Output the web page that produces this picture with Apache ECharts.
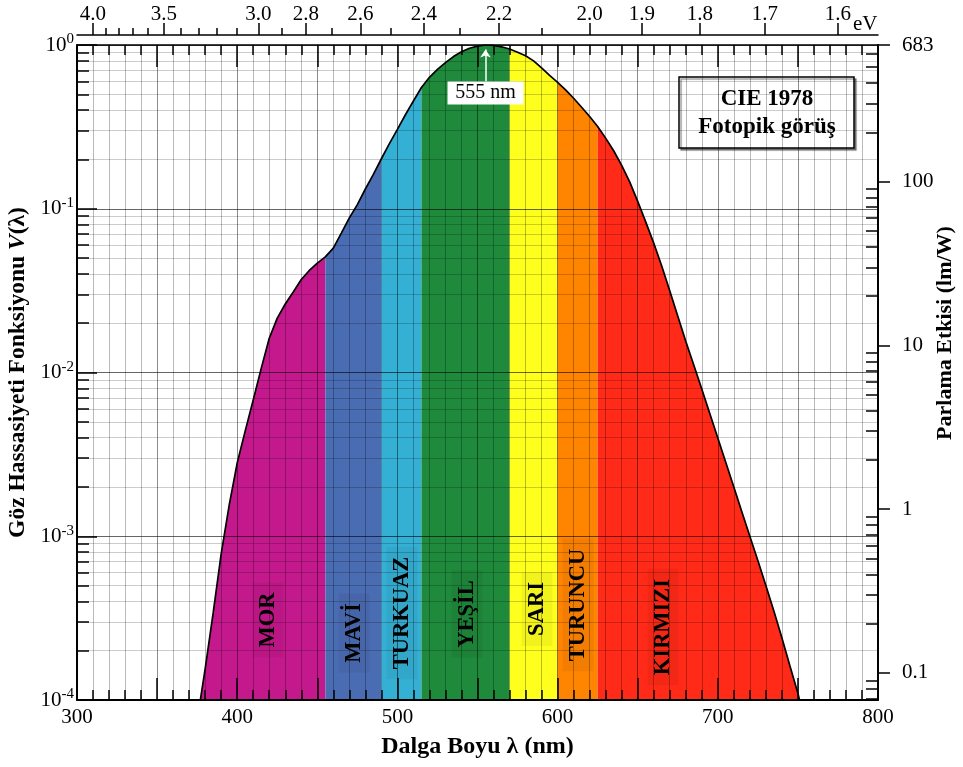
<!DOCTYPE html>
<html>
<head>
<meta charset="utf-8">
<script src="https://cdn.jsdelivr.net/npm/echarts@6/dist/echarts.min.js"></script>
<style>
  html, body { margin: 0; padding: 0; background: #fff; }
  #chart { width: 963px; height: 767px; }
</style>
</head>
<body>
<div id="chart"></div>
<script>
// CIE 1978 photopic luminosity function V(λ), wavelength in nm
const wavelengths = [377, 380, 385, 390, 395, 400, 405, 410, 415, 420, 425, 430, 435, 440, 445, 450,
  455, 460, 465, 470, 475, 480, 485, 490, 495, 500, 505, 510, 515, 520, 525, 530, 535, 540, 545,
  550, 555, 560, 565, 570, 575, 580, 585, 590, 595, 600, 605, 610, 615, 620, 625, 630, 635, 640,
  645, 650, 655, 660, 665, 670, 675, 680, 685, 690, 695, 700, 705, 710, 715, 720, 725, 730, 735,
  740, 745, 750, 751];
const vLambda = [1.0e-4, 1.55e-4, 3.4e-4, 7.8e-4, 1.55e-3, 2.8e-3, 4.4e-3, 6.8e-3, 0.0106, 0.0162,
  0.0215, 0.0262, 0.0310, 0.0370, 0.0420, 0.0465, 0.0508, 0.0575, 0.0710, 0.0880, 0.1060, 0.1320,
  0.1620, 0.2020, 0.2500, 0.3050, 0.3750, 0.4550, 0.5500, 0.6350, 0.7100, 0.7800, 0.8500, 0.9100,
  0.9550, 0.9850, 1.0000, 0.9950, 0.9750, 0.9450, 0.9040, 0.8590, 0.8000, 0.7240, 0.6520, 0.5920,
  0.5320, 0.4730, 0.4170, 0.3660, 0.3180, 0.2700, 0.2260, 0.1840, 0.1460, 0.1110, 0.0832, 0.0617,
  0.0447, 0.0316, 0.0221, 0.0155, 0.0111, 0.00794, 0.00562, 0.00398, 0.00282, 0.00200, 0.00141,
  0.00100, 0.00071, 0.00050, 0.00035, 0.00024, 0.000162, 0.000110, 0.000100];

// Colour bands of the visible spectrum
const bandNames = ['MOR', 'MAVİ', 'TURKUAZ', 'YEŞİL', 'SARI', 'TURUNCU', 'KIRMIZI'];
const bandEdges = [377, 455, 490, 515, 570, 600, 625, 751];
const bandColors = ['#c4198c', '#4a6cb3', '#35b0d5', '#1f8a3c', '#ffff1e', '#ff8400', '#ff2a17'];

// Peak of the curve
const peakLabel = '555 nm';
const peakWavelength = 555;

// Axis tick values
const decadeTicks = [1e-4, 1e-3, 1e-2, 1e-1, 1];
const efficacyLabels = [0.1, 1, 10, 100, 683];
const evMajor = [4.0, 3.5, 3.0, 2.8, 2.6, 2.4, 2.2, 2.0, 1.9, 1.8, 1.7, 1.6];
const evMinor = [4.0, 3.9, 3.8, 3.7, 3.6, 3.5, 3.4, 3.3, 3.2, 3.1, 3.0, 2.9, 2.8, 2.7, 2.6, 2.5,
  2.4, 2.3, 2.2, 2.1, 2.0, 1.9, 1.8, 1.7, 1.6];
const HC = 1239.84; // eV·nm
const K_M = 683;    // lm/W

const FONT = '"Liberation Serif", "Times New Roman", serif';

const toNm = ev => HC / ev;
const minorLog = (lo, hi) => {
  const out = [];
  for (let d = lo; d < hi; d++) {
    for (let k = 2; k <= 9; k++) out.push(k * Math.pow(10, d));
  }
  return out;
};
const vMinor = minorLog(-4, 0);
const effMinor = minorLog(-2, 3).filter(v => v > K_M * 1e-4 && v < K_M);

const curve = wavelengths.map((w, i) => [w, vLambda[i]]);

const bandSeries = bandNames.map((name, i) => ({
  type: 'line',
  name,
  data: curve.filter(p => p[0] >= bandEdges[i] && p[0] <= bandEdges[i + 1]),
  symbol: 'none',
  lineStyle: { width: 0 },
  areaStyle: { color: bandColors[i], opacity: 1, origin: 'start' },
  z: 2,
  silent: true
}));

const outline = {
  type: 'line',
  name: 'V(λ)',
  data: curve,
  symbol: 'none',
  lineStyle: { color: '#000', width: 1.7 },
  z: 5,
  silent: true,
  markLine: {
    silent: true,
    symbol: ['none', 'arrow'],
    symbolSize: 8,
    label: { show: false },
    lineStyle: { color: '#fff', width: 1.5, type: 'solid' },
    data: [[{ coord: [peakWavelength, 0.6] }, { coord: [peakWavelength, 0.94] }]]
  },
  markPoint: {
    silent: true,
    symbol: 'rect',
    symbolSize: [76, 23],
    itemStyle: { color: '#fff' },
    label: {
      show: true, position: 'inside', formatter: peakLabel,
      fontFamily: FONT, fontSize: 20, color: '#000'
    },
    data: [{ coord: [peakWavelength, 0.51] }]
  }
};

const tickLine = { color: '#000', width: 1.5 };
const labelText = { fontFamily: FONT, fontSize: 21, color: '#000' };

const option = {
  animation: false,
  backgroundColor: '#fff',
  grid: { left: 77, right: 85, top: 45, bottom: 67, outerBoundsMode: 'none' },
  xAxis: [
    {
      type: 'value', position: 'bottom', min: 300, max: 800, interval: 50, z: 3,
      name: 'Dalga Boyu λ (nm)', nameLocation: 'middle', nameGap: 35,
      nameTextStyle: { fontFamily: FONT, fontSize: 24, fontWeight: 'bold', color: '#000' },
      axisLine: { show: true, onZero: false, lineStyle: { color: '#000', width: 2 } },
      axisTick: { show: true, inside: true, length: 22, lineStyle: tickLine },
      minorTick: { show: true, splitNumber: 5, length: 10, lineStyle: tickLine },
      axisLabel: Object.assign({ margin: 7, formatter: v => (v % 100 === 0 ? String(v) : '') }, labelText),
      splitLine: { show: true, lineStyle: { color: 'rgba(0,0,0,0.45)', width: 1 } },
      minorSplitLine: { show: true, lineStyle: { color: 'rgba(0,0,0,0.27)', width: 1 } }
    },
    {
      type: 'value', position: 'top', offset: 10, min: 300, max: 800, z: 3,
      axisLine: { show: true, onZero: false, lineStyle: { color: '#000', width: 1.5 } },
      axisTick: { show: true, inside: false, length: 12, customValues: evMajor.map(toNm), lineStyle: tickLine },
      axisLabel: Object.assign({
        margin: 10, customValues: evMajor.map(toNm),
        formatter: v => (HC / v).toFixed(1)
      }, labelText),
      splitLine: { show: false }
    },
    {
      type: 'value', position: 'top', offset: 10, min: 300, max: 800, z: 3,
      axisLine: { show: false },
      axisTick: { show: true, inside: false, length: 7, customValues: evMinor.map(toNm), lineStyle: tickLine },
      axisLabel: { show: false },
      splitLine: { show: false }
    },
    {
      type: 'value', position: 'top', offset: 0, min: 300, max: 800, interval: 50, z: 3,
      axisLine: { show: true, onZero: false, lineStyle: { color: '#000', width: 1.5 } },
      axisTick: { show: true, inside: true, length: 22, lineStyle: tickLine },
      minorTick: { show: true, splitNumber: 5, length: 10, lineStyle: tickLine },
      axisLabel: { show: false },
      splitLine: { show: false }
    }
  ],
  yAxis: [
    {
      type: 'log', logBase: 10, min: 1e-4, max: 1, position: 'left', z: 3,
      name: '{b|Göz Hassasiyeti Fonksiyonu }{i|V}{b|(λ)}',
      nameLocation: 'middle', nameGap: 45,
      nameTextStyle: {
        rich: {
          b: { fontFamily: FONT, fontSize: 23.5, fontWeight: 'bold', color: '#000' },
          i: { fontFamily: FONT, fontSize: 23.5, fontWeight: 'bold', fontStyle: 'italic', color: '#000' }
        }
      },
      axisLine: { show: true, onZero: false, lineStyle: { color: '#000', width: 2 } },
      axisTick: { show: true, inside: true, length: 20, customValues: decadeTicks, lineStyle: tickLine },
      axisLabel: {
        margin: 3,
        customValues: decadeTicks,
        formatter: v => '{n|10}{s|' + Math.round(Math.log10(v)) + '}',
        rich: {
          n: { fontFamily: FONT, fontSize: 21, color: '#000', lineHeight: 26 },
          s: { fontFamily: FONT, fontSize: 15, color: '#000', verticalAlign: 'top', lineHeight: 15, padding: [0, 0, 12, 0] }
        }
      },
      splitLine: { show: true, lineStyle: { color: 'rgba(0,0,0,0.6)', width: 1 } }
    },
    {
      type: 'log', logBase: 10, min: K_M * 1e-4, max: K_M, position: 'right', z: 3,
      axisLine: { show: true, onZero: false, lineStyle: { color: '#000', width: 2 } },
      axisTick: { show: true, inside: false, length: 12, customValues: efficacyLabels, lineStyle: tickLine },
      axisLabel: Object.assign({
        margin: 24, customValues: efficacyLabels,
        formatter: v => (v > 600 ? '683' : v < 0.5 ? '0.1' : String(Math.round(v)))
      }, labelText),
      splitLine: { show: false }
    },
    {
      type: 'log', logBase: 10, min: K_M * 1e-4, max: K_M, position: 'right', z: 3,
      axisLine: { show: false },
      axisTick: { show: true, inside: true, length: 12, customValues: effMinor, lineStyle: tickLine },
      axisLabel: { show: false },
      splitLine: { show: false }
    },
    {
      type: 'log', logBase: 10, min: 1e-4, max: 1, position: 'left', z: 3,
      axisLine: { show: false },
      axisTick: { show: true, inside: true, length: 12, customValues: vMinor, lineStyle: tickLine },
      axisLabel: { show: false },
      splitLine: { show: true, lineStyle: { color: 'rgba(0,0,0,0.2)', width: 1 } }
    }
  ],
  series: bandSeries.concat([outline]),
  graphic: [
    // eV unit on the photon-energy axis
    {
      type: 'text', x: 853, y: 24, z: 10, silent: true,
      style: { text: 'eV', fontFamily: FONT, fontSize: 21, fill: '#000', align: 'left', verticalAlign: 'middle', textAlign: 'left', textVerticalAlign: 'middle' }
    },
    // right-hand axis title
    {
      type: 'text', x: 945, y: 333, rotation: Math.PI / 2, z: 10, silent: true,
      style: { text: 'Parlama Etkisi (lm/W)', fontFamily: FONT, fontSize: 22, fontWeight: 'bold', fill: '#000', align: 'center', verticalAlign: 'middle', textAlign: 'center', textVerticalAlign: 'middle' }
    },
    // title box
    {
      type: 'group', z: 10, silent: true,
      children: [
        {
          type: 'rect', shape: { x: 679, y: 77, width: 175, height: 71 },
          style: { fill: '#fff', stroke: '#000', lineWidth: 1.5, shadowColor: 'rgba(0,0,0,0.4)', shadowOffsetX: 2, shadowOffsetY: 2, shadowBlur: 1 }
        },
        {
          type: 'text', x: 767, y: 99,
          style: { text: 'CIE 1978', fontFamily: FONT, fontSize: 23, fontWeight: 'bold', fill: '#000', align: 'center', verticalAlign: 'middle', textAlign: 'center', textVerticalAlign: 'middle' }
        },
        {
          type: 'text', x: 767, y: 127,
          style: { text: 'Fotopik görüş', fontFamily: FONT, fontSize: 23, fontWeight: 'bold', fill: '#000', align: 'center', verticalAlign: 'middle', textAlign: 'center', textVerticalAlign: 'middle' }
        }
      ]
    }
  ].concat(bandNames.map((name, i) => {
    const pos = [[268, 620], [354, 633], [402, 613], [467, 614], [537, 609], [578, 605], [663, 627]][i];
    return {
      type: 'text', x: pos[0], y: pos[1], rotation: Math.PI / 2, z: 10, silent: true,
      style: {
        text: name, fontFamily: FONT, fontSize: 22.5, fontWeight: 'bold', fill: '#000',
        align: 'center', verticalAlign: 'middle', textAlign: 'center', textVerticalAlign: 'middle',
        backgroundColor: 'rgba(0,0,0,0.05)', padding: [4, 10]
      }
    };
  }))
};

const chart = echarts.init(document.getElementById('chart'), null, { renderer: 'canvas' });
chart.setOption(option);
</script>
</body>
</html>
